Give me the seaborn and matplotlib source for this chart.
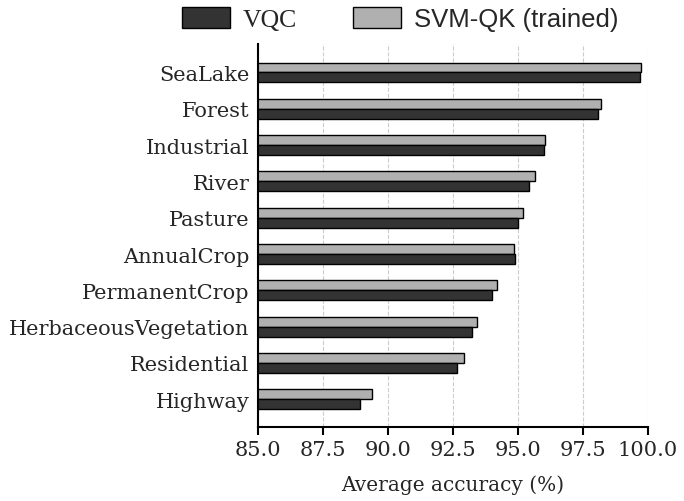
import numpy as np
import pandas as pd
import matplotlib
matplotlib.use("Agg")
import matplotlib.pyplot as plt
from matplotlib.patches import Patch
import seaborn as sns

# === data ===
classes = ["SeaLake", "Forest", "Industrial", "River", "Pasture", "AnnualCrop",
           "PermanentCrop", "HerbaceousVegetation", "Residential", "Highway"]
vqc = [99.69, 98.09, 96.01, 95.44, 95.00, 94.90, 94.01, 93.22, 92.67, 88.92]
svm_qk = [99.73, 98.19, 96.04, 95.67, 95.19, 94.85, 94.19, 93.42, 92.94, 89.38]
methods = ["VQC", "SVM-QK (trained)"]
colors = {"VQC": "#333333", "SVM-QK (trained)": "#b0b0b0"}
xticks = [85.0, 87.5, 90.0, 92.5, 95.0, 97.5, 100.0]

df = pd.DataFrame({
    "cls": classes * 2,
    "acc": vqc + svm_qk,
    "method": ["VQC"] * len(classes) + ["SVM-QK (trained)"] * len(classes),
})

sns.set_style("ticks")
plt.rcParams["font.family"] = ["DejaVu Serif"]

fig = plt.figure(figsize=(6.84, 5.02), dpi=100)
ax = fig.add_axes([0.377, 0.147, 0.570, 0.763])

sns.barplot(data=df, y="cls", x="acc", hue="method",
            hue_order=["SVM-QK (trained)", "VQC"], order=classes,
            palette=colors, orient="h", width=0.55, gap=0,
            edgecolor="black", linewidth=1.0, ax=ax, legend=False)

ax.set_xlim(85, 100)
ax.set_ylim(9.77, -0.78)
ax.set_xticks(xticks)
ax.set_xticklabels([f"{t:.1f}" for t in xticks], fontsize=15)
ax.tick_params(axis="y", left=False, length=0, labelsize=15, pad=6)
ax.tick_params(axis="x", bottom=True, length=6, width=1.5, direction="out",
               color="black", pad=3)
ax.set_ylabel("")
ax.set_xlabel("Average accuracy (%)", fontsize=14.5, labelpad=11)
ax.xaxis.grid(True, linestyle="--", color="#cccccc", linewidth=0.8)
ax.set_axisbelow(True)
sns.despine(ax=ax, top=True, right=True)
for side in ["left", "bottom"]:
    ax.spines[side].set_color("black")
    ax.spines[side].set_linewidth(1.5)

handles = [Patch(facecolor=colors[m], edgecolor="black", linewidth=1.0) for m in methods]
leg = fig.legend(handles, methods, loc="upper center", bbox_to_anchor=(0.585, 1.03),
                 ncol=2, frameon=False, fontsize=18.5, handlelength=1.85,
                 handleheight=0.85, columnspacing=2.2, handletextpad=0.5)
leg.get_texts()[0].set_family("Liberation Serif")
leg.get_texts()[1].set_family("Liberation Sans")

fig.savefig("out.png", dpi=100)
